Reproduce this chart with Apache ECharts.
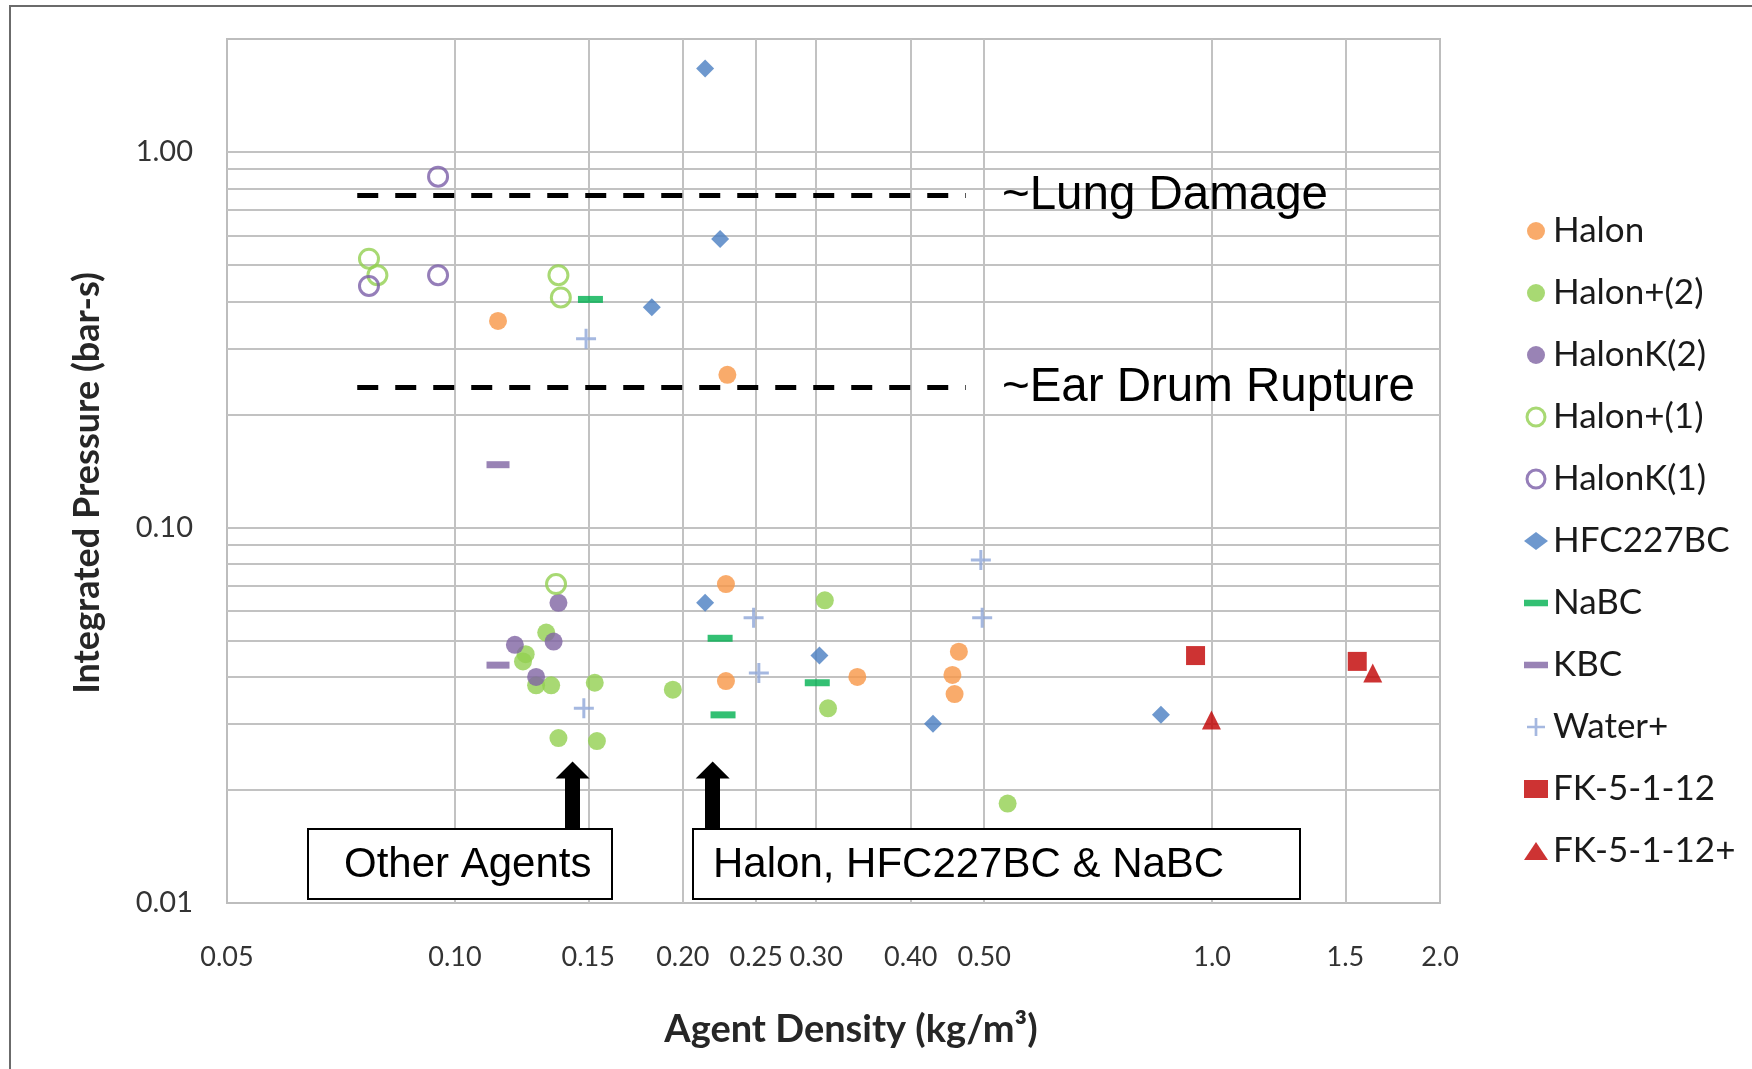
<!DOCTYPE html>
<html>
<head>
<meta charset="utf-8">
<script src="https://cdn.jsdelivr.net/npm/echarts@6/dist/echarts.min.js"></script>
<style>
  html, body { margin: 0; padding: 0; background: #fff; }
</style>
</head>
<body>
<div id="main" style="width: 1752px; height: 1069px;"></div>
<script>
// agent density (kg/m3), integrated pressure (bar-s)
var halon = [[0.114, 0.355], [0.229, 0.255], [0.228, 0.0707], [0.228, 0.039], [0.340, 0.040], [0.463, 0.0467], [0.454, 0.0405], [0.457, 0.036]]
var halonPlus2 = [[0.132, 0.0525], [0.124, 0.046], [0.123, 0.044], [0.128, 0.038], [0.134, 0.038], [0.153, 0.0386], [0.194, 0.037], [0.137, 0.0275], [0.154, 0.027], [0.308, 0.064], [0.311, 0.033], [0.537, 0.0184]]
var halonK2 = [[0.137, 0.063], [0.135, 0.0497], [0.120, 0.0487], [0.128, 0.040]]
var halonPlus1 = [[0.077, 0.52], [0.079, 0.47], [0.137, 0.47], [0.138, 0.41], [0.136, 0.0707]]
var halonK1 = [[0.095, 0.86], [0.077, 0.44], [0.095, 0.47]]
var hfc227bc = [[0.214, 1.67], [0.224, 0.587], [0.182, 0.386], [0.214, 0.063], [0.303, 0.0456], [0.428, 0.030], [0.856, 0.0317]]
var nabc = [[0.151, 0.405], [0.224, 0.0507], [0.226, 0.0317], [0.301, 0.0386]]
var kbc = [[0.114, 0.147], [0.114, 0.043]]
var waterPlus = [[0.149, 0.318], [0.148, 0.033], [0.248, 0.0575], [0.252, 0.041], [0.495, 0.082], [0.497, 0.0575]]
var fk5112 = [[0.951, 0.0456], [1.555, 0.044]]
var fk5112Plus = [[0.998, 0.0307], [1.63, 0.041]]

var xTickValues = [0.05, 0.1, 0.15, 0.2, 0.25, 0.3, 0.4, 0.5, 1, 1.5, 2]
var xTickLabels = ['0.05', '0.10', '0.15', '0.20', '0.25', '0.30', '0.40', '0.50', '1.0', '1.5', '2.0']
var yTickValues = [0.01, 0.1, 1]
var yTickLabels = ['0.01', '0.10', '1.00']
var xGrid = [0.1, 0.15, 0.2, 0.25, 0.3, 0.4, 0.5, 1, 1.5]
var yGrid = [0.02, 0.03, 0.04, 0.05, 0.06, 0.07, 0.08, 0.09, 0.1, 0.2, 0.3, 0.4, 0.5, 0.6, 0.7, 0.8, 0.9, 1]

// threshold lines
var thresholdNames = ['~Lung Damage', '~Ear Drum Rupture']
var thresholdValues = [0.765, 0.236]
var thresholdFrom = 0.0743
var thresholdTo = 0.473
// arrows from the boxes
var arrowX = [0.143, 0.219]
var arrowFrom = 0.0157
var arrowTo = 0.0226

var PLUS = 'path://M8.5,0H11.5V8.5H20V11.5H11.5V20H8.5V11.5H0V8.5H8.5Z'
var DASH = 'path://M0,0H22V6H0Z'
var CAL = 'Lato'
var ARIAL = 'Liberation Sans'

var chartDom = document.getElementById('main')
var myChart = echarts.init(chartDom)

function pointSeries (name, data, symbol, size, style) {
  return {
    name: name,
    type: 'scatter',
    data: data,
    symbol: symbol,
    symbolSize: size,
    itemStyle: style,
    z: 3
  }
}

var gridLines = xGrid.map(function (v) { return { xAxis: v } })
  .concat(yGrid.map(function (v) { return { yAxis: v } }))

var thresholdLines = thresholdValues.map(function (v, i) {
  return [
    { coord: [thresholdFrom, v], name: thresholdNames[i] },
    { coord: [thresholdTo, v] }
  ]
})

var arrowLines = arrowX.map(function (v) {
  return [{ coord: [v, arrowFrom] }, { coord: [v, arrowTo] }]
})

var option = {
  animation: false,
  backgroundColor: '#fff',
  grid: {
    left: 227,
    top: 39,
    width: 1213,
    height: 864,
    show: true,
    borderColor: '#bdbdbd',
    borderWidth: 2
  },
  xAxis: {
    type: 'log',
    logBase: 10,
    min: 0.05,
    max: 2,
    axisLine: { show: false },
    axisTick: { show: false },
    axisLabel: { show: false },
    splitLine: { show: false }
  },
  yAxis: {
    type: 'log',
    logBase: 10,
    min: 0.01,
    max: 2,
    axisLine: { show: false },
    axisTick: { show: false },
    axisLabel: { show: false },
    splitLine: { show: false }
  },
  legend: {
    orient: 'vertical',
    left: 1519,
    top: 206,
    itemWidth: 24,
    itemHeight: 18,
    itemGap: 22,
    textStyle: { fontFamily: CAL, fontSize: 35, color: '#1a1a1a', lineHeight: 40 },
    data: [
      { name: 'Halon', icon: 'circle' },
      { name: 'Halon+(2)', icon: 'circle' },
      { name: 'HalonK(2)', icon: 'circle' },
      { name: 'Halon+(1)', icon: 'circle', itemStyle: { color: '#fff', borderColor: '#92d050', borderWidth: 3 } },
      { name: 'HalonK(1)', icon: 'circle', itemStyle: { color: '#fff', borderColor: '#7a5ea8', borderWidth: 3 } },
      { name: 'HFC227BC', icon: 'diamond' },
      { name: 'NaBC', icon: DASH },
      { name: 'KBC', icon: DASH },
      { name: 'Water+', icon: PLUS },
      { name: 'FK-5-1-12', icon: 'rect' },
      { name: 'FK-5-1-12+', icon: 'triangle' }
    ]
  },
  series: [
    {
      name: 'gridlines',
      type: 'scatter',
      data: [],
      z: 1,
      markLine: {
        silent: true,
        symbol: 'none',
        z: 1,
        label: { show: false },
        lineStyle: { color: '#c2c2c2', width: 2, type: 'solid' },
        emphasis: { disabled: true },
        data: gridLines
      }
    },
    {
      name: 'annotations',
      type: 'scatter',
      data: [],
      z: 4,
      markLine: {
        silent: true,
        symbol: 'none',
        z: 4,
        lineStyle: { color: '#000', width: 5, type: [21, 17] },
        label: {
          show: true,
          position: 'end',
          distance: 36,
          formatter: '{b}',
          fontFamily: ARIAL,
          fontSize: 47.5,
          color: '#000'
        },
        emphasis: { disabled: true },
        data: thresholdLines
      }
    },
    {
      name: 'arrows',
      type: 'scatter',
      data: [],
      z: 4,
      markLine: {
        silent: true,
        symbol: ['none', 'triangle'],
        symbolSize: [34, 17],
        z: 4,
        label: { show: false },
        lineStyle: { color: '#000', width: 15, type: 'solid' },
        itemStyle: { color: '#000' },
        emphasis: { disabled: true },
        data: arrowLines
      }
    },
    pointSeries('Halon', halon, 'circle', 18, { color: '#f79646' }),
    pointSeries('Halon+(2)', halonPlus2, 'circle', 18, { color: '#92d050' }),
    pointSeries('HalonK(2)', halonK2, 'circle', 18, { color: '#8064a2' }),
    pointSeries('Halon+(1)', halonPlus1, 'circle', 19, { color: 'rgba(255,255,255,0)', borderColor: '#92d050', borderWidth: 3 }),
    pointSeries('HalonK(1)', halonK1, 'circle', 19, { color: 'rgba(255,255,255,0)', borderColor: '#7a5ea8', borderWidth: 3 }),
    pointSeries('HFC227BC', hfc227bc, 'diamond', 18, { color: '#4a7ec2' }),
    pointSeries('NaBC', nabc, 'rect', [25, 7], { color: '#00b050' }),
    pointSeries('KBC', kbc, 'rect', [23, 7], { color: '#8064a2' }),
    pointSeries('Water+', waterPlus, PLUS, 20, { color: '#8ea6d8' }),
    pointSeries('FK-5-1-12', fk5112, 'rect', 19, { color: '#c00000' }),
    pointSeries('FK-5-1-12+', fk5112Plus, 'triangle', 19, { color: '#c00000' })
  ]
}

myChart.setOption(option)

// titles, tick labels, boxes and outer frame
var graphics = [
  {
    type: 'rect',
    shape: { x: 10, y: 6, width: 2000, height: 2000 },
    style: { fill: null, stroke: '#6b6b6b', lineWidth: 2 },
    silent: true
  },
  {
    type: 'text',
    x: 851,
    y: 1030,
    style: { text: 'Agent Density (kg/m³)', fontFamily: CAL, fontWeight: 'bold', fontSize: 38, fill: '#262626', align: 'center', verticalAlign: 'middle' }
  },
  {
    type: 'text',
    x: 87,
    y: 483,
    rotation: Math.PI / 2,
    style: { text: 'Integrated Pressure (bar-s)', fontFamily: CAL, fontWeight: 'bold', fontSize: 36, fill: '#262626', align: 'center', verticalAlign: 'middle' }
  },
  {
    type: 'rect',
    z: 100,
    shape: { x: 308, y: 829, width: 304, height: 70 },
    style: { fill: '#fff', stroke: '#000', lineWidth: 2 }
  },
  {
    type: 'text',
    z: 101,
    x: 344,
    y: 865,
    style: { text: 'Other Agents', fontFamily: ARIAL, fontSize: 42, fill: '#000', verticalAlign: 'middle' }
  },
  {
    type: 'rect',
    z: 100,
    shape: { x: 693, y: 829, width: 607, height: 70 },
    style: { fill: '#fff', stroke: '#000', lineWidth: 2 }
  },
  {
    type: 'text',
    z: 101,
    x: 713,
    y: 865,
    style: { text: 'Halon, HFC227BC & NaBC', fontFamily: ARIAL, fontSize: 42, fill: '#000', verticalAlign: 'middle' }
  }
]

xTickValues.forEach(function (v, i) {
  var px = myChart.convertToPixel({ xAxisIndex: 0 }, v)
  graphics.push({
    type: 'text',
    x: px,
    y: 957,
    style: { text: xTickLabels[i], fontFamily: CAL, fontSize: 27, fill: '#333', align: 'center', verticalAlign: 'middle' }
  })
})

yTickValues.forEach(function (v, i) {
  var py = myChart.convertToPixel({ yAxisIndex: 0 }, v)
  graphics.push({
    type: 'text',
    x: 193,
    y: py,
    style: { text: yTickLabels[i], fontFamily: CAL, fontSize: 29, fill: '#333', align: 'right', verticalAlign: 'middle' }
  })
})

myChart.setOption({ graphic: graphics })
</script>
</body>
</html>
